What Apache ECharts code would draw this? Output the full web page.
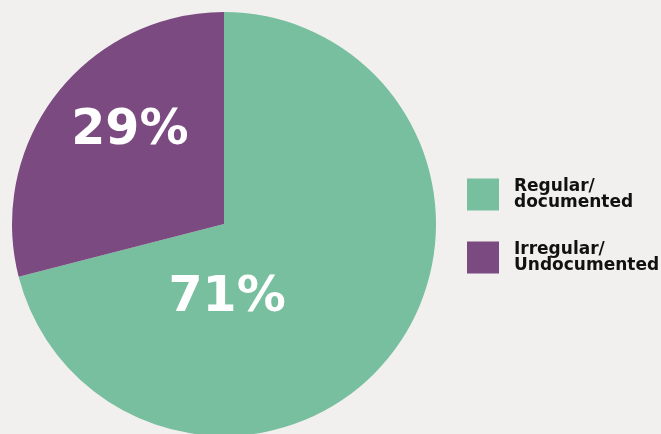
<!DOCTYPE html>
<html>
<head>
<meta charset="utf-8">
<script src="https://cdn.jsdelivr.net/npm/echarts@6/dist/echarts.min.js"></script>
<style>
  html, body { margin: 0; padding: 0; background: #f1f0ef; }
  #mainchart { width: 661px; height: 434px; }
</style>
</head>
<body>
<div id="mainchart"></div>
<script>
var categories = ['Regular/\ndocumented', 'Irregular/\nUndocumented'];
var shares = [71, 29];
var colors = ['#77bf9e', '#7b4a80'];
var labelOffsets = [[-83, 7], [-8, -26]];

var myChart = echarts.init(document.getElementById('mainchart'));

var option = {
    backgroundColor: '#f1f0ef',
    legend: {
        orient: 'vertical',
        left: 467,
        top: 178,
        padding: 0,
        itemWidth: 32,
        itemHeight: 32,
        itemGap: 30,
        icon: 'rect',
        textStyle: {
            fontFamily: 'DejaVu Sans',
            fontWeight: 900,
            fontSize: 17,
            lineHeight: 16,
            color: '#111',
            padding: [0, 0, 0, 10]
        },
        data: categories
    },
    series: [{
        type: 'pie',
        center: [224, 224],
        radius: [0, 212],
        startAngle: 90,
        clockwise: true,
        silent: true,
        label: {
            position: 'inside',
            color: '#fff',
            fontFamily: 'DejaVu Sans',
            fontWeight: 900,
            fontSize: 49,
            formatter: '{c}%'
        },
        labelLine: { show: false },
        data: categories.map(function (name, i) {
            return {
                name: name,
                value: shares[i],
                itemStyle: { color: colors[i] },
                label: { offset: labelOffsets[i] }
            };
        })
    }]
};
myChart.setOption(option);
</script>
</body>
</html>
